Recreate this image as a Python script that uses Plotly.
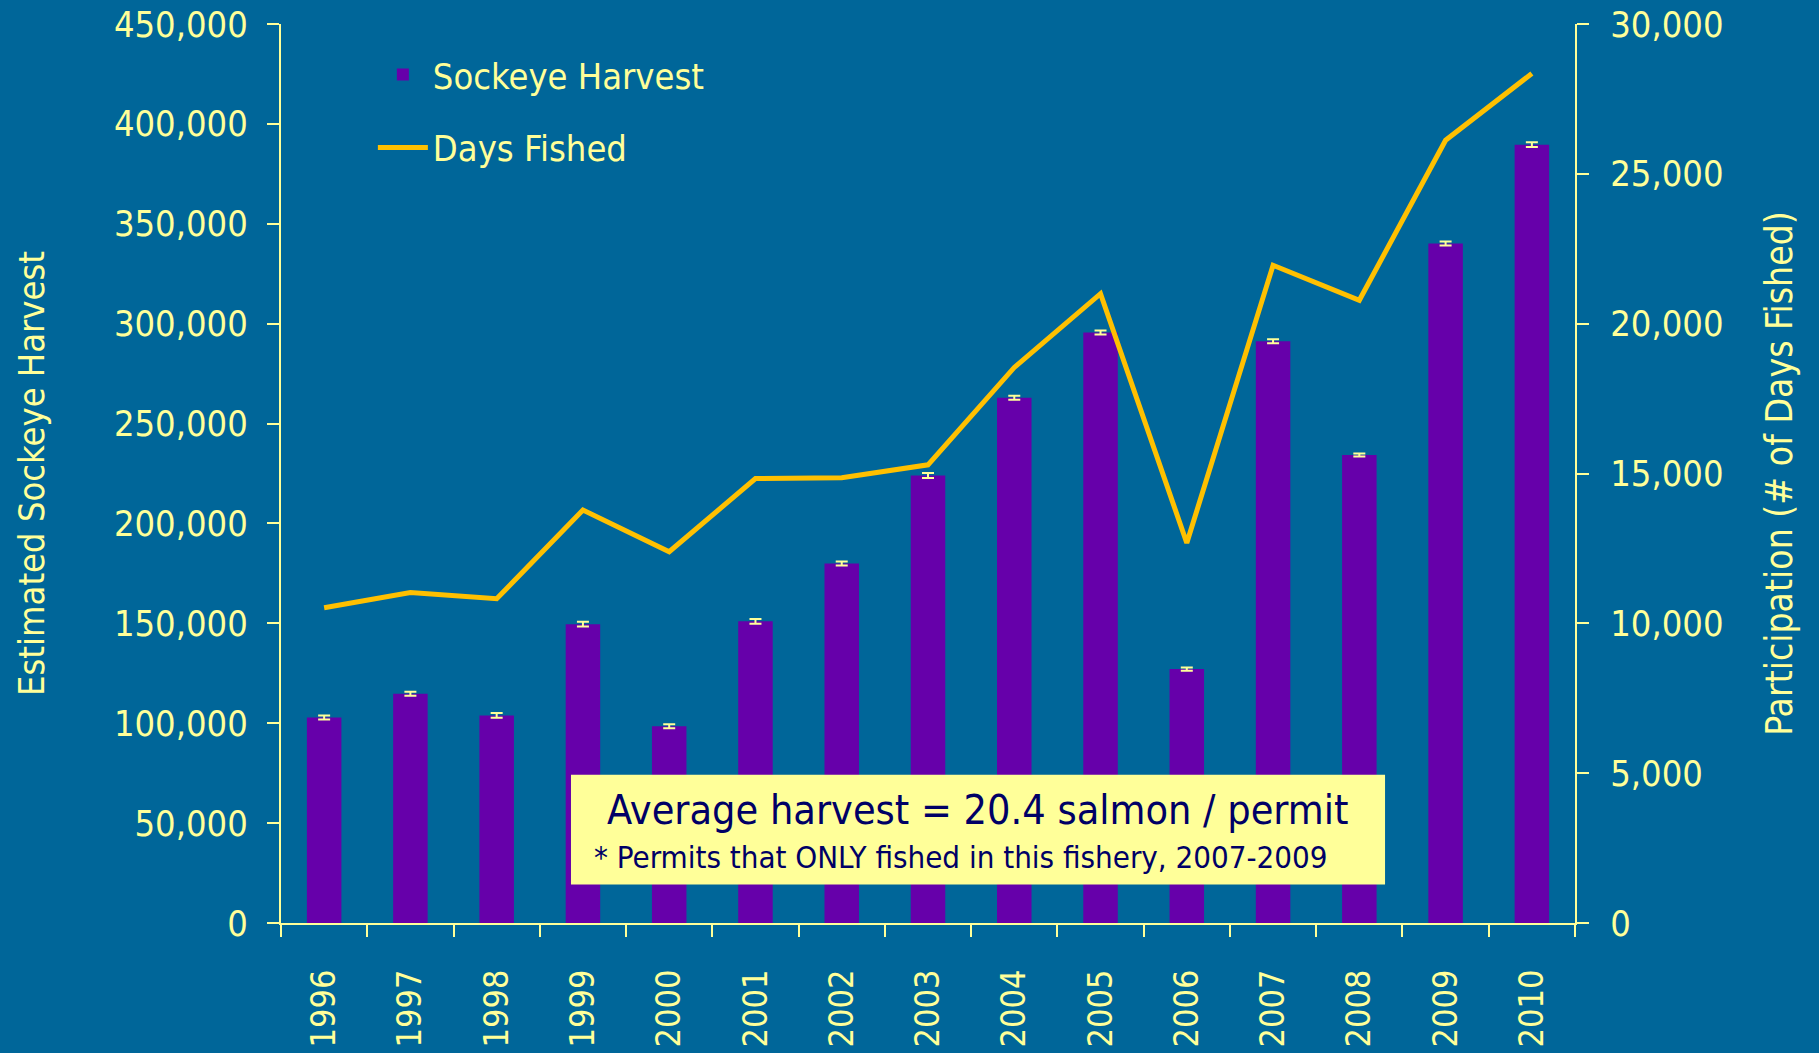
import plotly.graph_objects as go

years = ["1996", "1997", "1998", "1999", "2000", "2001", "2002", "2003",
         "2004", "2005", "2006", "2007", "2008", "2009", "2010"]
sockeye_harvest = [102900, 114750, 103900, 149600, 98500, 151000, 180000, 224000,
                   262900, 295600, 127100, 291250, 234250, 340100, 389600]
harvest_error = [1000, 1000, 1200, 1200, 1000, 1200, 1000, 1200,
                 1000, 1000, 800, 1000, 800, 1000, 1200]
days_fished = [10520, 11030, 10820, 13780, 12390, 14830, 14860, 15290,
               18540, 21000, 12680, 21950, 20780, 26120, 28350]
left_ticks = [0, 50000, 100000, 150000, 200000, 250000, 300000, 350000, 400000, 450000]
right_ticks = [0, 5000, 10000, 15000, 20000, 25000, 30000]

BG = "#006699"
TXT = "#FFFF99"
BAR = "#6600AA"
LINE = "#FFC000"
FONT = "Tahoma, 'DejaVu Sans Condensed', 'Liberation Sans', sans-serif"

fig = go.Figure()
fig.add_trace(go.Bar(
    x=years, y=sockeye_harvest, name="Sockeye Harvest",
    marker=dict(color=BAR, line=dict(width=0)),
    error_y=dict(type="data", array=harvest_error, color=TXT, thickness=2, width=6),
    legendgroup="a",
))
fig.add_trace(go.Scatter(
    x=years, y=days_fished, name="Days Fished", yaxis="y2", mode="lines",
    line=dict(color=LINE, width=5), legendgroup="b",
))

fig.add_shape(type="rect", xref="paper", yref="paper",
              x0=0.2241, x1=0.8532, y0=0.0428, y1=0.165,
              fillcolor="#FFFF99", line=dict(width=0), layer="above")
fig.add_annotation(xref="paper", yref="paper", x=0.5386, y=0.126,
                   text="Average harvest = 20.4 salmon / permit", showarrow=False,
                   font=dict(family=FONT, size=41, color="#000066"),
                   xanchor="center", yanchor="middle")
fig.add_annotation(xref="paper", yref="paper", x=0.2403, y=0.073,
                   text="* Permits that ONLY fished in this fishery, 2007-2009", showarrow=False,
                   font=dict(family=FONT, size=31, color="#000066"),
                   xanchor="left", yanchor="middle")

fig.update_layout(
    width=1819, height=1053,
    paper_bgcolor=BG, plot_bgcolor=BG,
    margin=dict(l=281, r=244, t=23.5, b=129.5, autoexpand=False),
    font=dict(family=FONT, color=TXT, size=36),
    bargap=0.6,
    showlegend=True,
    legend=dict(x=0.071, y=0.977, xanchor="left", yanchor="top",
                bgcolor="rgba(0,0,0,0)", font=dict(size=36, color=TXT),
                tracegroupgap=23, itemwidth=50, traceorder="grouped"),
    xaxis=dict(
        type="category", tickangle=-90, tickson="boundaries", automargin=False,
        ticks="outside", ticklen=12, tickwidth=2, tickcolor=TXT,
        showline=True, linecolor=TXT, linewidth=2, showgrid=False,
        tickfont=dict(size=34, color=TXT), ticklabelstandoff=31,
    ),
    yaxis=dict(
        range=[0, 450000], tickvals=left_ticks, tickformat=",d", automargin=False,
        ticks="outside", ticklen=12, tickwidth=2, tickcolor=TXT,
        showline=True, linecolor=TXT, linewidth=2, showgrid=False, zeroline=False,
        tickfont=dict(size=36, color=TXT), ticklabelstandoff=12,
        title=dict(text="Estimated Sockeye Harvest", font=dict(size=36, color=TXT), standoff=58),
    ),
    yaxis2=dict(
        range=[0, 30000], tickvals=right_ticks, tickformat=",d", automargin=False,
        overlaying="y", side="right",
        ticks="outside", ticklen=12, tickwidth=2, tickcolor=TXT,
        showline=True, linecolor=TXT, linewidth=2, showgrid=False, zeroline=False,
        tickfont=dict(size=36, color=TXT), ticklabelstandoff=14,
        title=dict(text="Participation (# of Days Fished)", font=dict(size=37, color=TXT), standoff=44),
    ),
)

fig.write_html("out.html", config={"displayModeBar": False},
               post_script="document.body.style.margin='0';document.body.style.padding='0';document.body.style.overflow='hidden';")
